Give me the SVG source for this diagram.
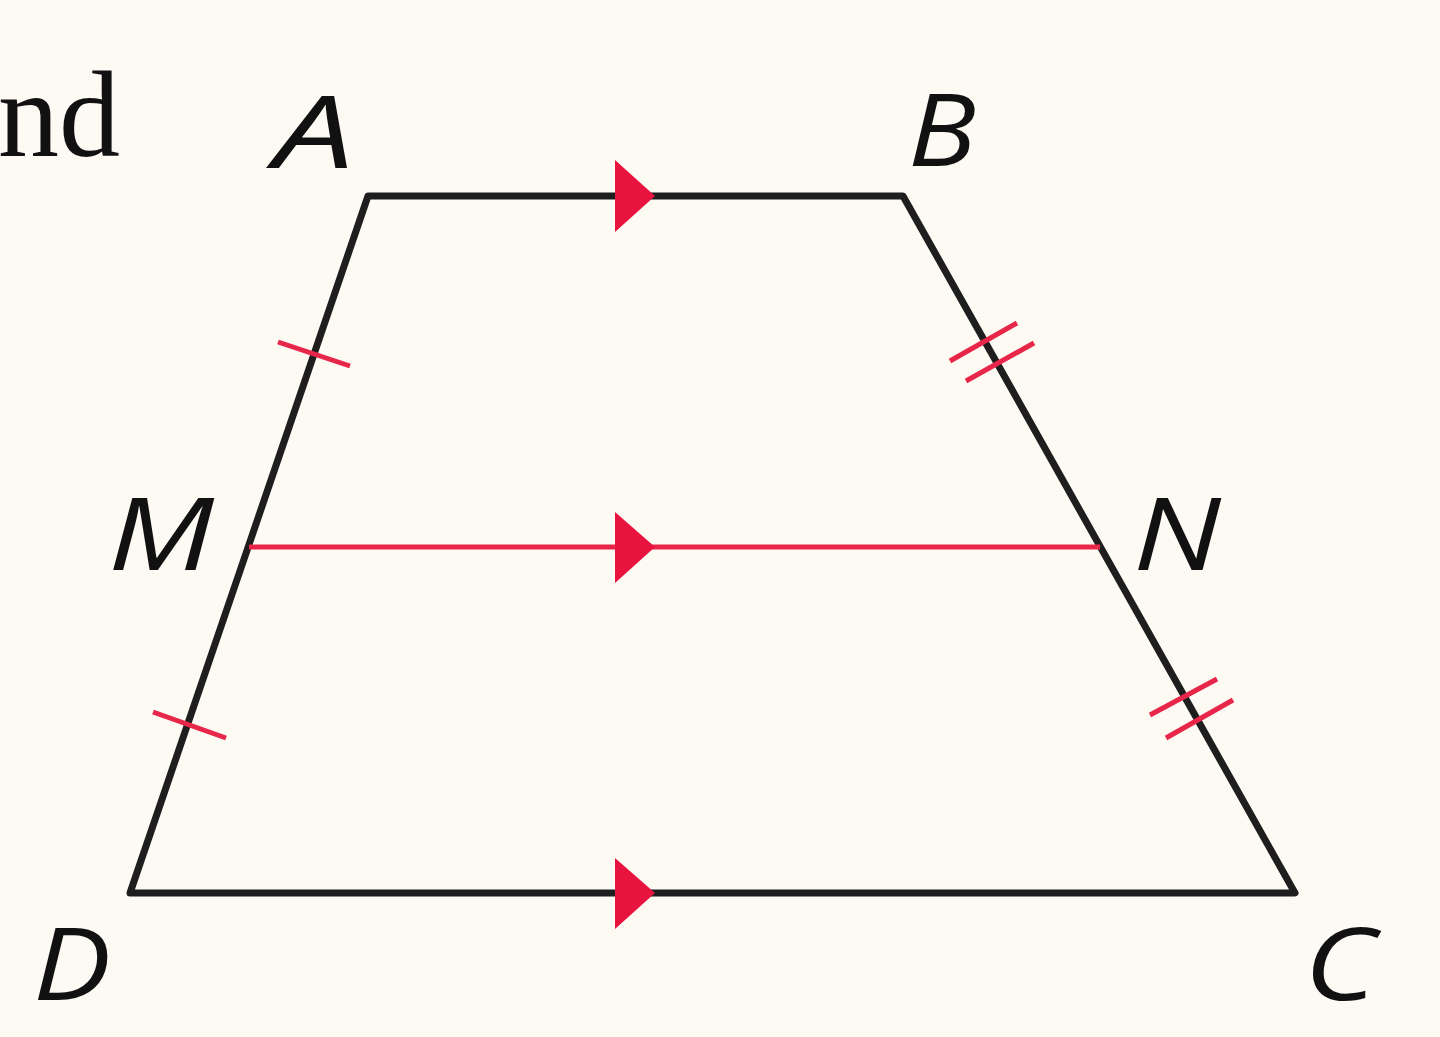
<svg xmlns="http://www.w3.org/2000/svg" width="1440" height="1037" viewBox="0 0 1440 1037">
<defs>
<style>
.edge{stroke:#1e1e1e;stroke-width:7;fill:none;stroke-linejoin:round}
.mid{stroke:#e8264a;stroke-width:5;fill:none}
.tick{stroke:#e8264a;stroke-width:5;fill:none}
.arr{fill:#e8143f}
.lbl{font-family:"Open Sans","Liberation Sans",sans-serif;font-style:italic;font-weight:500;font-size:100px;fill:#111}
.txt{font-family:"Liberation Serif",serif;font-size:122px;fill:#111}
</style>
</defs>
<rect width="1440" height="1037" fill="#fdf9f3"/>
<text class="txt" x="120" y="156" text-anchor="end">nd</text>
<g id="connectors">
<path class="edge" d="M368,196 L903,196 L1295,893 L130,893 Z"/>
<line class="mid" x1="249" y1="547" x2="1100" y2="547"/>
<polygon class="arr" points="615,160 655,196 615,232"/>
<polygon class="arr" points="615,512 655,547 615,583"/>
<polygon class="arr" points="615,858 655,893 615,929"/>
<line class="tick" x1="278" y1="342" x2="350" y2="366"/>
<line class="tick" x1="153" y1="712" x2="226" y2="738"/>
<line class="tick" x1="950" y1="361" x2="1017" y2="323"/>
<line class="tick" x1="966" y1="381" x2="1034" y2="343"/>
<line class="tick" x1="1150" y1="715" x2="1217" y2="679"/>
<line class="tick" x1="1166" y1="738" x2="1233" y2="700"/>
</g>
<g id="A"><text class="lbl" x="274" y="168" textLength="80" lengthAdjust="spacingAndGlyphs">A</text></g>
<g id="B"><text class="lbl" x="908" y="166" textLength="68" lengthAdjust="spacingAndGlyphs">B</text></g>
<g id="M"><text class="lbl" x="108" y="570" textLength="106" lengthAdjust="spacingAndGlyphs">M</text></g>
<g id="N"><text class="lbl" x="1133" y="570" textLength="88" lengthAdjust="spacingAndGlyphs">N</text></g>
<g id="D"><text class="lbl" x="33" y="1000" textLength="78" lengthAdjust="spacingAndGlyphs">D</text></g>
<g id="C"><text class="lbl" x="1304" y="1000" textLength="72" lengthAdjust="spacingAndGlyphs">C</text></g>
</svg>
